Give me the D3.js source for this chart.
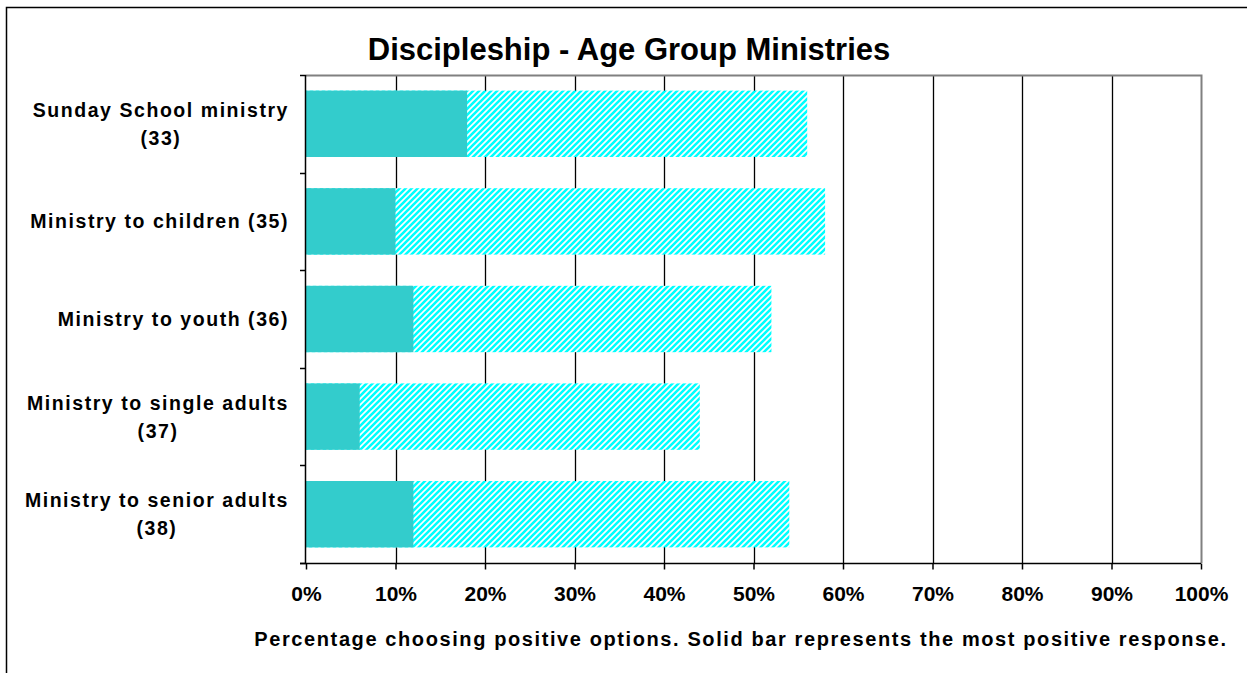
<!DOCTYPE html>
<html><head><meta charset="utf-8">
<script src="https://cdn.jsdelivr.net/npm/d3@7"></script>
<style>body{margin:0;background:#fff}svg{display:block}text{font-family:"Liberation Sans",Arial,sans-serif;font-weight:bold;fill:#000}</style>
</head><body>
<script>
const categories = [["Sunday School ministry","(33)"],["Ministry to children (35)"],["Ministry to youth (36)"],["Ministry to single adults","(37)"],["Ministry to senior adults","(38)"]];
const mostPositive = [18, 10, 12, 6, 12];
const totalPositive = [56, 58, 52, 44, 54];
const xTicks = [0,10,20,30,40,50,60,70,80,90,100];
const title = "Discipleship - Age Group Ministries";
const xTitle = "Percentage choosing positive options. Solid bar represents the most positive response.";

const W = 1247, H = 673;
const svg = d3.select("body").append("svg").attr("width", W).attr("height", H);
const defs = svg.append("defs");
const pat = defs.append("pattern").attr("id","hatch").attr("patternUnits","userSpaceOnUse")
  .attr("width",6).attr("height",6);
pat.append("rect").attr("width",6).attr("height",6).attr("fill","#fff");
pat.append("path").attr("d","M-1,1 l2,-2 M0,6 l6,-6 M5,7 l2,-2").attr("stroke","#00ffff").attr("stroke-width",2.6);

// outer frame
svg.append("path").attr("d","M6.5,673 V7.5 H1247").attr("fill","none").attr("stroke","#000").attr("stroke-width",1.5);

const m = {l:306, r:1201, t:75, b:563};
const x = d3.scaleLinear().domain([0,100]).range([m.l, m.r]);
const y = d3.scaleBand().domain(d3.range(categories.length)).range([m.t, m.b]).paddingInner(0.32).paddingOuter(0.16);

// gridlines
svg.append("g").selectAll("line").data(xTicks.filter(d=>d>0 && d<100)).join("line")
  .attr("x1",d=>Math.round(x(d))+0.5).attr("x2",d=>Math.round(x(d))+0.5)
  .attr("y1",m.t).attr("y2",m.b).attr("stroke","#000").attr("stroke-width",1.3);

// top and right border gray
svg.append("path").attr("d",`M${m.l},${m.t+0.5} H${m.r+0.5} V${m.b}`).attr("fill","none").attr("stroke","#808080").attr("stroke-width",2);

// bars
const g = svg.append("g");
g.selectAll("rect.tot").data(totalPositive).join("rect").attr("class","tot")
  .attr("x",x(0)).attr("y",(d,i)=>y(i)).attr("height",y.bandwidth())
  .attr("width",d=>x(d)-x(0)).attr("fill","url(#hatch)");
g.selectAll("rect.mp").data(mostPositive).join("rect").attr("class","mp")
  .attr("x",x(0)).attr("y",(d,i)=>y(i)).attr("height",y.bandwidth())
  .attr("width",d=>x(d)-x(0)).attr("fill","#33cccc");

// x axis
const xa = svg.append("g").attr("transform",`translate(0,${m.b+0.5})`)
  .call(d3.axisBottom(x).tickValues(xTicks).tickFormat(d=>d+"%").tickSize(6).tickSizeOuter(0));
xa.select(".domain").attr("d",`M${m.l-6},0H${m.r}`).attr("stroke","#000").attr("stroke-width",1.5);
xa.selectAll(".tick line").attr("stroke","#000").attr("stroke-width",1.5);
xa.selectAll(".tick text").attr("y",37).attr("dy",0).attr("font-size","21px").style("font-family",'"Liberation Sans",Arial,sans-serif').style("font-weight","bold").attr("fill","#000");

// y axis line and ticks
const bounds = d3.range(categories.length+1).map(i=>m.t + i*(m.b-m.t)/categories.length);
svg.append("line").attr("x1",m.l-0.5).attr("x2",m.l-0.5).attr("y1",m.t).attr("y2",m.b).attr("stroke","#000").attr("stroke-width",1.5);
svg.append("g").selectAll("line").data(bounds).join("line")
  .attr("x1",m.l-6).attr("x2",m.l).attr("y1",d=>Math.round(d)+0.5).attr("y2",d=>Math.round(d)+0.5)
  .attr("stroke","#000").attr("stroke-width",1.5);

// category labels
const lab = svg.append("g");
categories.forEach((lines,i)=>{
  const cy = m.t + (i+0.5)*(m.b-m.t)/categories.length;
  const t = lab.append("text").attr("font-size","19.5px").attr("letter-spacing","1.55px").attr("text-anchor","middle");
  const n = lines.length;
  lines.forEach((s,j)=>{
    t.append("tspan").attr("x",0).attr("y",cy + (j-(n-1)/2)*28 + 7).text(s);
  });
  const w = t.node().getBBox().width;
  t.attr("transform",`translate(${289 - w/2},0)`);
});

// title
svg.append("text").attr("x",629).attr("y",60).attr("text-anchor","middle").attr("font-size","31px").text(title);
svg.append("text").attr("x",741).attr("y",646).attr("text-anchor","middle").attr("font-size","20px").attr("letter-spacing","1.6px").text(xTitle);
</script>
</body></html>
